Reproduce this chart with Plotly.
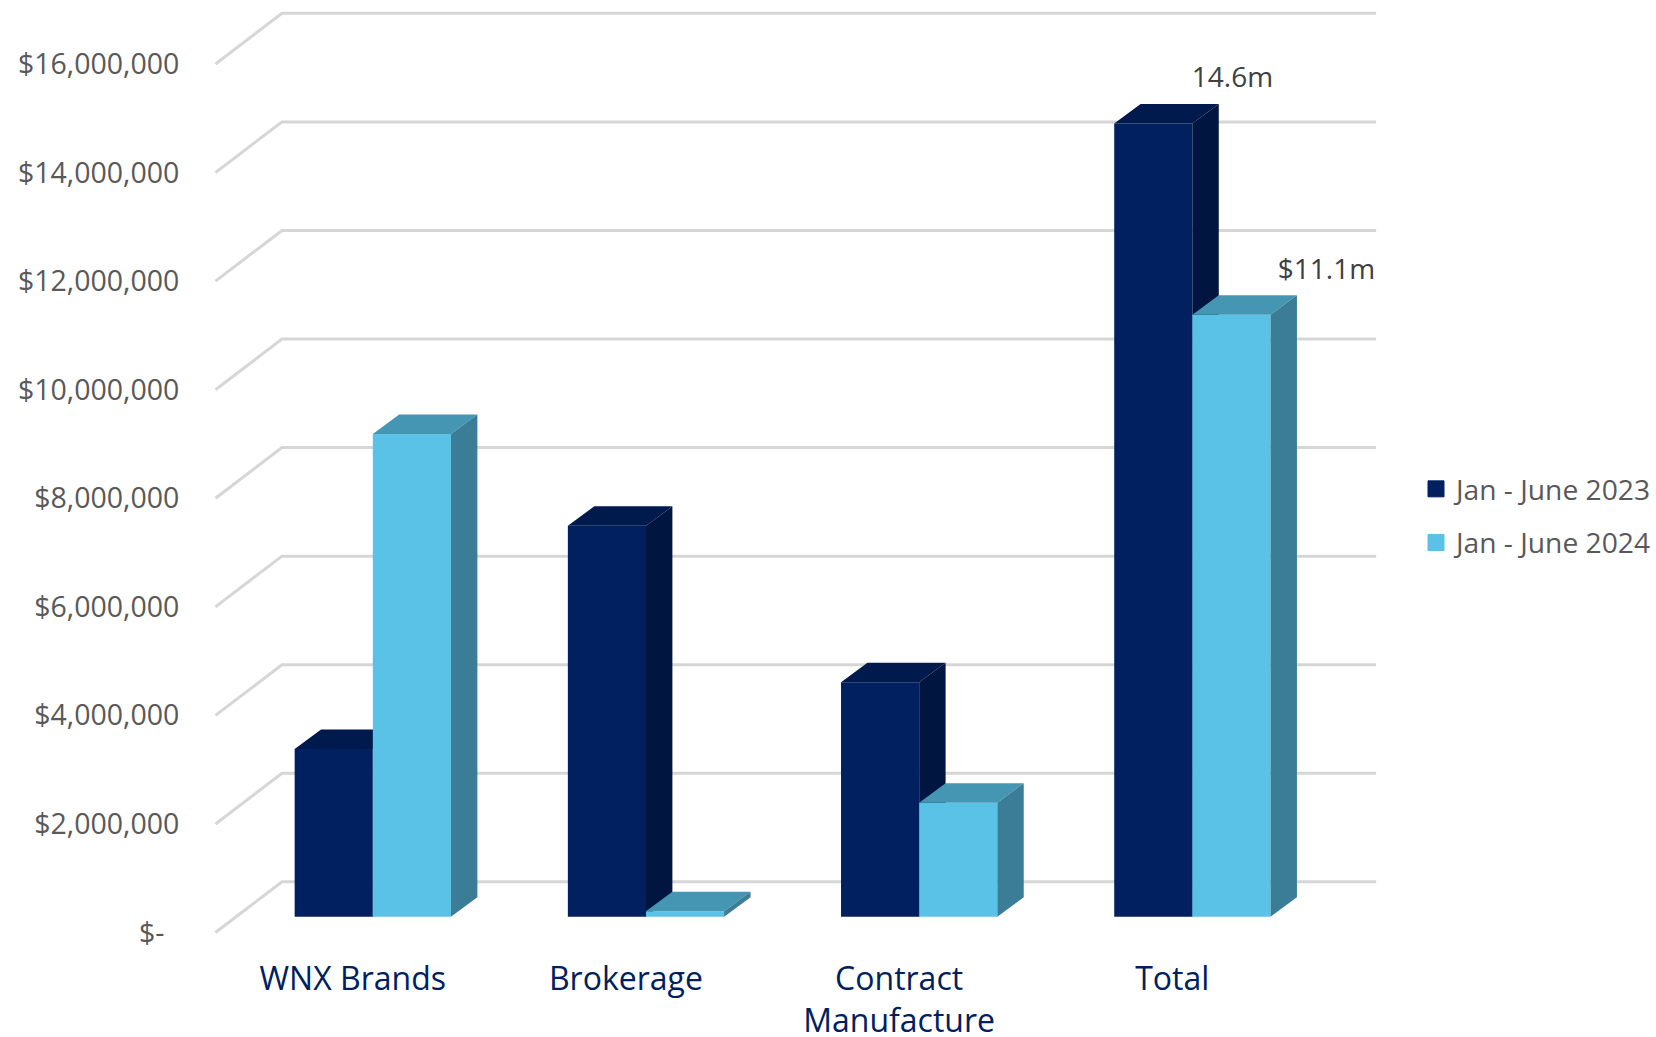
import plotly.graph_objects as go

categories = ["WNX Brands", "Brokerage", "Contract<br>Manufacture", "Total"]
series_2023 = [3.09e6, 7.20e6, 4.32e6, 14.61e6]
series_2024 = [8.89e6, 0.10e6, 2.10e6, 11.09e6]
name_2023 = "Jan - June 2023"
name_2024 = "Jan - June 2024"
tick_values = [0, 2e6, 4e6, 6e6, 8e6, 10e6, 12e6, 14e6, 16e6]
tick_labels = ["$-\u00a0\u00a0", "$2,000,000", "$4,000,000", "$6,000,000", "$8,000,000",
               "$10,000,000", "$12,000,000", "$14,000,000", "$16,000,000"]
data_labels = ["14.6m", "$11.1m"]

W, H = 1656, 1037
S = W / 1568
L, R, B = 200, 1383, 950
X_UNIT = 258.67 * S
Y_UNIT = 51.4 * S / 1e6
X0 = 353 * S
WALL_ZERO = 883 * S
FLOOR_ZERO = 868 * S

xr = [(L - X0) / X_UNIT, (R - X0) / X_UNIT]
yr_wall = [(WALL_ZERO - B) / Y_UNIT, WALL_ZERO / Y_UNIT]
yr_bar = [(FLOOR_ZERO - B) / Y_UNIT, FLOOR_ZERO / Y_UNIT]

BAR_W = 74 / 258.67
BAR_DX = 25 / 258.67
BAR_DY = 18.5 / 51.4 * 1e6
WALL_DY = 48 / 51.4 * 1e6
WALL_F = (204 - 353) / 258.67
WALL_B = (267 - 353) / 258.67
WALL_R = (1303 - 353) / 258.67

fig = go.Figure()

gx, gy = [], []
for v in tick_values:
    gx += [WALL_F, WALL_B, WALL_R, None]
    gy += [v, v + WALL_DY, v + WALL_DY, None]
fig.add_trace(go.Scatter(x=gx, y=gy, mode="lines", yaxis="y",
                         line=dict(color="#D6D6D6", width=3), showlegend=False, hoverinfo="skip"))


def add_series(values, offset, axis, front, top, side, name):
    xs = [i + offset for i in range(len(values))]
    fig.add_trace(go.Bar(x=xs, y=values, width=BAR_W, yaxis=axis, marker=dict(color=front, line=dict(width=0)),
                         name=name, showlegend=False))
    tx, ty, sx, sy = [], [], [], []
    for x, v in zip(xs, values):
        l, r = x - BAR_W / 2, x + BAR_W / 2
        tx += [l, l + BAR_DX, r + BAR_DX, r, l, None]
        ty += [v, v + BAR_DY, v + BAR_DY, v, v, None]
        sx += [r, r + BAR_DX, r + BAR_DX, r, r, None]
        sy += [0, BAR_DY, v + BAR_DY, v, 0, None]
    for px, py, c in ((tx, ty, top), (sx, sy, side)):
        fig.add_trace(go.Scatter(x=px, y=py, yaxis=axis, mode="lines", fill="toself", fillcolor=c,
                                 line=dict(width=0, color=c), showlegend=False, hoverinfo="skip"))
    fig.add_trace(go.Scatter(x=[None], y=[None], yaxis=axis, mode="markers", name=name, legendgroup=name,
                             marker=dict(symbol="square", size=16, color=front, line=dict(width=1, color=front))))


add_series(series_2023, -BAR_W / 2, "y2", "#002060", "#001A4D", "#00153F", name_2023)
add_series(series_2024, BAR_W / 2, "y3", "#5BC2E7", "#4596B3", "#3B7D96", name_2024)

fig.add_trace(go.Scatter(
    x=[len(categories) - 1 + 38 / 258.67, len(categories) - 1 + 127 / 258.67],
    y=[series_2023[-1] + 0.81e6, series_2024[-1] + 0.78e6],
    yaxis="y3", mode="text", text=data_labels, textposition="middle center",
    textfont=dict(family="Open Sans", size=28, color="#404040"), showlegend=False, hoverinfo="skip"))

fig.update_layout(
    width=W, height=H, autosize=False,
    margin=dict(l=L, r=W - R, t=0, b=H - B, autoexpand=False),
    paper_bgcolor="white", plot_bgcolor="white",
    font=dict(family="Open Sans", color="#595959", size=28),
    xaxis=dict(range=xr, showgrid=False, zeroline=False, showline=False, automargin=False,
               tickmode="array", tickvals=[i - 19 / 258.67 for i in range(len(categories))], ticktext=categories,
               tickfont=dict(family="Open Sans", size=32, color="#002060"),
               ticks="outside", ticklen=1, tickcolor="rgba(0,0,0,0)"),
    yaxis=dict(range=yr_wall, showgrid=False, zeroline=False, showline=False, automargin=False,
               tickmode="array", tickvals=tick_values, ticktext=tick_labels,
               tickfont=dict(family="Open Sans", size=28.5, color="#595959"),
               ticks="outside", ticklen=14, tickcolor="rgba(0,0,0,0)"),
    yaxis2=dict(range=yr_bar, overlaying="y", visible=False),
    yaxis3=dict(range=yr_bar, overlaying="y", visible=False),
    legend=dict(x=(1416 - L) / (R - L), y=1 - 516 / B, xanchor="left", yanchor="middle",
                font=dict(family="Open Sans", size=28.2, color="#595959"), tracegroupgap=14,
                bgcolor="rgba(0,0,0,0)"),
    hovermode=False,
)

fig.write_html("out.html", config=dict(displayModeBar=False), post_script="document.body.style.margin='0';")
